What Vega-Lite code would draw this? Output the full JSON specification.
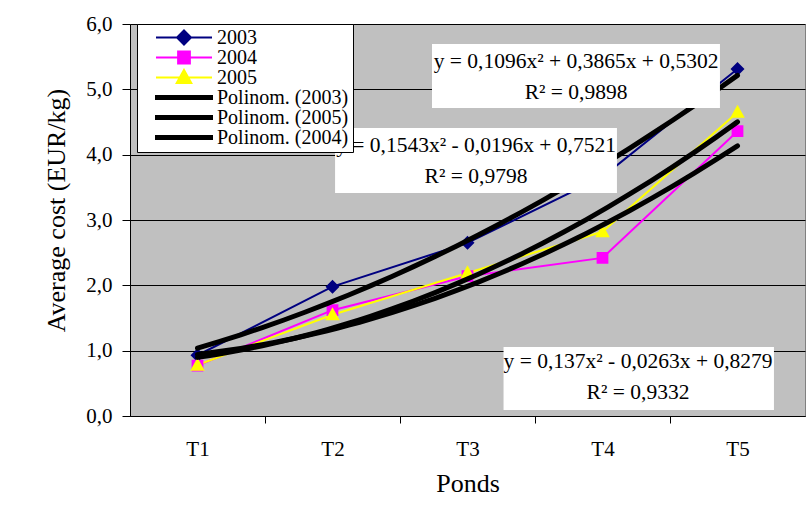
{
  "$schema": "https://vega.github.io/schema/vega-lite/v6.json",
  "width": 675,
  "height": 392,
  "autosize": "none",
  "padding": {"left": 130, "top": 24, "right": 1, "bottom": 90},
  "background": "white",
  "config": {
    "font": "Liberation Serif",
    "view": {"fill": "#C0C0C0", "stroke": "#808080", "strokeWidth": 1},
    "axis": {
      "labelFont": "Liberation Serif", "titleFont": "Liberation Serif",
      "labelColor": "black", "titleColor": "black", "titleFontWeight": "normal",
      "domainColor": "black", "tickColor": "black", "labelFontSize": 21, "titleFontSize": 26
    }
  },
  "datasets": {
    "costs": [
      {"pond": 1, "year": "2003", "trend": "Polinom. (2003)", "cost": 0.93},
      {"pond": 2, "year": "2003", "trend": "Polinom. (2003)", "cost": 1.98},
      {"pond": 3, "year": "2003", "trend": "Polinom. (2003)", "cost": 2.65},
      {"pond": 4, "year": "2003", "trend": "Polinom. (2003)", "cost": 3.66},
      {"pond": 5, "year": "2003", "trend": "Polinom. (2003)", "cost": 5.31},
      {"pond": 1, "year": "2004", "trend": "Polinom. (2004)", "cost": 0.77},
      {"pond": 2, "year": "2004", "trend": "Polinom. (2004)", "cost": 1.62},
      {"pond": 3, "year": "2004", "trend": "Polinom. (2004)", "cost": 2.14},
      {"pond": 4, "year": "2004", "trend": "Polinom. (2004)", "cost": 2.42},
      {"pond": 5, "year": "2004", "trend": "Polinom. (2004)", "cost": 4.36},
      {"pond": 1, "year": "2005", "trend": "Polinom. (2005)", "cost": 0.78},
      {"pond": 2, "year": "2005", "trend": "Polinom. (2005)", "cost": 1.55},
      {"pond": 3, "year": "2005", "trend": "Polinom. (2005)", "cost": 2.19},
      {"pond": 4, "year": "2005", "trend": "Polinom. (2005)", "cost": 2.82},
      {"pond": 5, "year": "2005", "trend": "Polinom. (2005)", "cost": 4.65}
    ],
    "eq2003": [{"label": ["y = 0,1096x² + 0,3865x + 0,5302", "R² = 0,9898"]}],
    "eq2005": [{"label": ["y = 0,1543x² - 0,0196x + 0,7521", "R² = 0,9798"]}],
    "eq2004": [{"label": ["y = 0,137x² - 0,0263x + 0,8279", "R² = 0,9332"]}]
  },
  "layer": [
    {
      "data": {"name": "costs"},
      "mark": {"type": "line", "strokeWidth": 2},
      "encoding": {
        "x": {
          "field": "pond", "type": "quantitative",
          "scale": {"domain": [0.5, 5.5], "nice": false, "zero": false},
          "axis": {
            "title": "Ponds",
            "values": [1, 1.5, 2, 2.5, 3, 3.5, 4, 4.5, 5],
            "labelExpr": "datum.value % 1 == 0 ? 'T' + datum.value : ''",
            "tickOpacity": {"condition": {"test": "datum.value % 1 == 0", "value": 0}, "value": 1},
            "labelOverlap": false, "labelFlush": false, "labelBound": false,
            "grid": false, "tickSize": 7, "labelPadding": 15, "titlePadding": 11
          }
        },
        "y": {
          "field": "cost", "type": "quantitative",
          "scale": {"domain": [0, 6], "nice": false},
          "axis": {
            "title": "Average cost (EUR/kg)",
            "values": [0, 1, 2, 3, 4, 5, 6],
            "labelExpr": "replace(format(datum.value, '.1f'), '.', ',')",
            "grid": true, "gridColor": "black", "gridWidth": 1,
            "tickSize": 8, "labelPadding": 10, "titlePadding": 16, "titleY": 186
          }
        },
        "color": {
          "field": "year", "type": "nominal",
          "scale": {
            "domain": ["2003", "2004", "2005", "Polinom. (2003)", "Polinom. (2005)", "Polinom. (2004)"],
            "range": ["#000080", "#FF00FF", "#FFFF00", "black", "black", "black"]
          },
          "legend": {
            "title": null, "orient": "none", "legendX": 7, "legendY": 0,
            "fillColor": "white", "strokeColor": "black", "padding": 4,
            "labelFont": "Liberation Serif", "labelFontSize": 20, "labelColor": "black",
            "symbolSize": 3136, "clipHeight": 19, "rowPadding": -1,
            "symbolOffset": 14, "labelOffset": 4, "labelLimit": 300,
            "symbolStrokeWidth": 2,
            "encode": {
              "symbols": {
                "update": {
                  "stroke": {"value": {"expr": "scale('color', datum.value)"}},
                  "fill": {"value": {"expr": "scale('color', datum.value)"}},
                  "opacity": {"value": 1}
                }
              }
            }
          }
        }
      }
    },
    {
      "data": {"name": "costs"},
      "mark": {"type": "point", "filled": true, "size": 3136, "strokeWidth": 0, "opacity": 1},
      "encoding": {
        "x": {"field": "pond", "type": "quantitative"},
        "y": {"field": "cost", "type": "quantitative"},
        "color": {"field": "year", "type": "nominal"},
        "shape": {
          "field": "year", "type": "nominal",
          "scale": {
            "domain": ["2003", "2004", "2005", "Polinom. (2003)", "Polinom. (2005)", "Polinom. (2004)"],
            "range": [
              "M-1,0H1M0,-0.25L0.25,0L0,0.25L-0.25,0Z",
              "M-1,0H1M-0.21,-0.21H0.21V0.21H-0.21Z",
              "M-1,0H1M0,-0.27L0.26,0.2L-0.26,0.2Z",
              "M-1,-0.055H1V0.055H-1Z",
              "M-1,-0.055H1V0.055H-1Z",
              "M-1,-0.055H1V0.055H-1Z"
            ]
          }
        }
      }
    },
    {
      "data": {"name": "costs"},
      "transform": [
        {"regression": "cost", "on": "pond", "groupby": ["trend"], "method": "poly", "order": 2}
      ],
      "mark": {"type": "line", "strokeWidth": 5, "strokeCap": "round"},
      "encoding": {
        "x": {"field": "pond", "type": "quantitative"},
        "y": {"field": "cost", "type": "quantitative"},
        "color": {"field": "trend", "type": "nominal"}
      }
    },
    {
      "data": {"name": "eq2003"},
      "mark": {"type": "rect", "fill": "white"},
      "encoding": {
        "x": {"datum": 2.737, "type": "quantitative"},
        "x2": {"datum": 4.87},
        "y": {"datum": 5.694, "type": "quantitative"},
        "y2": {"datum": 4.714}
      }
    },
    {
      "data": {"name": "eq2003"},
      "mark": {"type": "text", "font": "Liberation Serif", "fontSize": 21.5, "fill": "black", "lineHeight": 31, "baseline": "middle", "align": "center"},
      "encoding": {
        "x": {"datum": 3.804, "type": "quantitative"},
        "y": {"datum": 5.419, "type": "quantitative"},
        "text": {"field": "label"}
      }
    },
    {
      "data": {"name": "eq2005"},
      "mark": {"type": "rect", "fill": "white"},
      "encoding": {
        "x": {"datum": 2.019, "type": "quantitative"},
        "x2": {"datum": 4.107},
        "y": {"datum": 4.408, "type": "quantitative"},
        "y2": {"datum": 3.413}
      }
    },
    {
      "data": {"name": "eq2005"},
      "mark": {"type": "text", "font": "Liberation Serif", "fontSize": 21.5, "fill": "black", "lineHeight": 31, "baseline": "middle", "align": "center"},
      "encoding": {
        "x": {"datum": 3.063, "type": "quantitative"},
        "y": {"datum": 4.133, "type": "quantitative"},
        "text": {"field": "label"}
      }
    },
    {
      "data": {"name": "eq2004"},
      "mark": {"type": "rect", "fill": "white"},
      "encoding": {
        "x": {"datum": 3.267, "type": "quantitative"},
        "x2": {"datum": 5.27},
        "y": {"datum": 1.056, "type": "quantitative"},
        "y2": {"datum": 0.092}
      }
    },
    {
      "data": {"name": "eq2004"},
      "mark": {"type": "text", "font": "Liberation Serif", "fontSize": 21.5, "fill": "black", "lineHeight": 31, "baseline": "middle", "align": "center"},
      "encoding": {
        "x": {"datum": 4.263, "type": "quantitative"},
        "y": {"datum": 0.827, "type": "quantitative"},
        "text": {"field": "label"}
      }
    }
  ]
}
